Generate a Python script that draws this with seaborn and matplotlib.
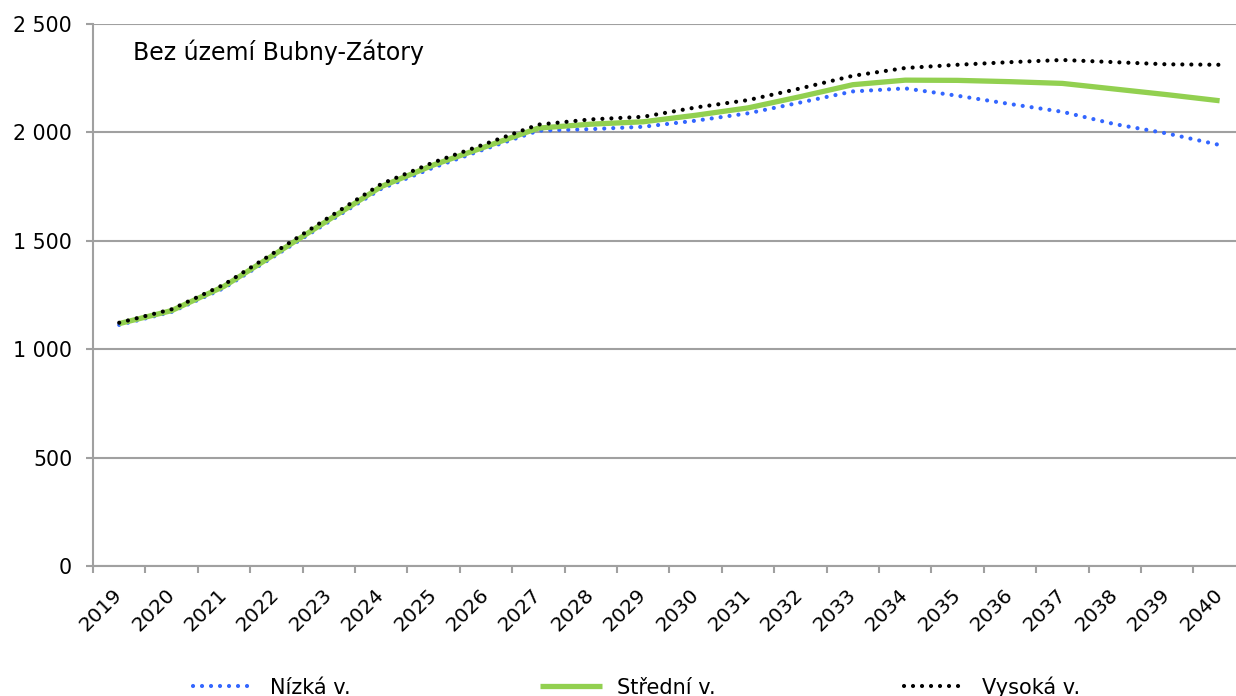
import numpy as np
import pandas as pd
import seaborn as sns
import matplotlib
matplotlib.use("Agg")
import matplotlib.pyplot as plt
from matplotlib.ticker import FuncFormatter, FixedLocator

years = list(range(2019, 2041))
nizka = [1112, 1172, 1282, 1435, 1588, 1740, 1838, 1925, 2008, 2015, 2026,
         2054, 2088, 2138, 2189, 2203, 2169, 2131, 2095, 2038, 1995, 1942]
stredni = [1118, 1178, 1290, 1443, 1597, 1750, 1850, 1935, 2020, 2038, 2049,
           2079, 2113, 2165, 2220, 2241, 2240, 2234, 2226, 2200, 2174, 2146]
vysoka = [1122, 1184, 1298, 1452, 1608, 1762, 1862, 1948, 2036, 2060, 2072,
          2115, 2149, 2203, 2261, 2297, 2312, 2324, 2334, 2324, 2314, 2312]
series_names = ["Nízká v.", "Střední v.", "Vysoká v."]
y_ticks = [0, 500, 1000, 1500, 2000, 2500]
title_text = "Bez území Bubny-Zátory"

sns.set_theme(style="white")
plt.rcParams["font.family"] = ["DejaVu Sans"]
plt.rcParams["text.color"] = "black"
plt.rcParams["xtick.labelcolor"] = "black"
plt.rcParams["ytick.labelcolor"] = "black"

W, H = 1236, 696
fig = plt.figure(figsize=(W / 100, H / 100), dpi=100)
left_px, right_px, top_px, bottom_px = 93, 1236, 24, 566
ax = fig.add_axes([left_px / W, 1 - bottom_px / H,
                   (right_px - left_px) / W, (bottom_px - top_px) / H])

df = pd.DataFrame({"pos": np.arange(len(years)), "year": years,
                   series_names[0]: nizka, series_names[1]: stredni,
                   series_names[2]: vysoka})

grid_col = "#a0a0a0"
dot_style = (0, (0.01, 2.15))
sns.lineplot(data=df, x="pos", y=series_names[0], ax=ax, color="#3366ff",
             lw=3.0, linestyle=dot_style, dash_capstyle="round",
             label=series_names[0])
sns.lineplot(data=df, x="pos", y=series_names[1], ax=ax, color="#92d050",
             lw=3.8, solid_capstyle="butt", label=series_names[1])
sns.lineplot(data=df, x="pos", y=series_names[2], ax=ax, color="black",
             lw=3.0, linestyle=dot_style, dash_capstyle="round",
             label=series_names[2])

spacing = 52.4
ax.set_xlim(-0.5, -0.5 + (right_px - left_px) / spacing)
ax.set_ylim(0, 2500)

ax.set_yticks(y_ticks)
ax.yaxis.set_major_formatter(FuncFormatter(lambda v, p: f"{v:,.0f}".replace(",", " ")))
ax.grid(axis="y", color=grid_col, lw=1.5)
ax.grid(axis="x", visible=False)
ax.set_axisbelow(True)

ax.set_xticks(np.arange(len(years)))
ax.set_xticklabels([str(y) for y in years])
ax.xaxis.set_minor_locator(FixedLocator(np.arange(len(years) + 1) - 0.5))
ax.tick_params(axis="x", which="major", length=0, pad=18.5, labelsize=14.5,
               labelcolor="black")
ax.tick_params(axis="x", which="minor", length=5, width=1.5, color=grid_col,
               direction="out", bottom=True)
ax.tick_params(axis="y", which="major", length=5, width=1.5, color=grid_col,
               direction="out", left=True, pad=10, labelsize=14.8,
               labelcolor="black")
for lab in ax.get_xticklabels():
    lab.set_rotation(45)
    lab.set_ha("right")
    lab.set_va("center")
    lab.set_rotation_mode("anchor")

for s in ["top", "right"]:
    ax.spines[s].set_visible(False)
for s in ["left", "bottom"]:
    ax.spines[s].set_color(grid_col)
    ax.spines[s].set_linewidth(1.5)

ax.set_xlabel("")
ax.set_ylabel("")

fig.text(133 / W, 1 - 60 / H, title_text, fontsize=17, va="baseline",
         ha="left", color="black")

handles, labels = ax.get_legend_handles_labels()
ax.get_legend().remove()
leg = fig.legend(handles, labels, loc="center left",
                 bbox_to_anchor=(193 / W, 1 - 687 / H), ncol=3, frameon=False,
                 fontsize=15, handlelength=3.0, handletextpad=0.72,
                 columnspacing=9.05, borderpad=0, borderaxespad=0)
for t in leg.get_texts():
    t.set_color("black")

fig.savefig("out.png", dpi=100)
